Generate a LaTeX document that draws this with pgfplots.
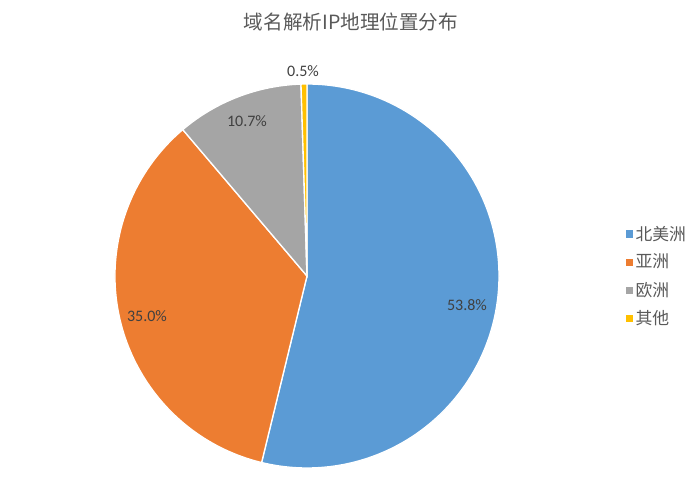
\documentclass[border=0pt]{standalone}
\usepackage{pgfplots}
\pgfplotsset{compat=1.18}
\usepackage{pgfplotstable}
\usepackage{fontspec}
\setmainfont{Carlito}
\newfontfamily\cjk{Noto Sans CJK SC}

\definecolor{pblue}{HTML}{5B9BD5}
\definecolor{porange}{HTML}{ED7D31}
\definecolor{pgray}{HTML}{A5A5A5}
\definecolor{pgold}{HTML}{FFC000}
\definecolor{labtext}{HTML}{404040}
\definecolor{captext}{HTML}{595959}

% share of each region, in %
\pgfplotstableread{
value
53.8
35.0
10.7
0.5
}\piedata

\def\pct#1{\pgfmathprintnumber[fixed,fixed zerofill,precision=1,assume math mode=true]{#1}\%}

\begin{document}
\begin{tikzpicture}
\pgfplotstablegetelem{0}{value}\of\piedata \let\vA\pgfplotsretval
\pgfplotstablegetelem{1}{value}\of\piedata \let\vB\pgfplotsretval
\pgfplotstablegetelem{2}{value}\of\piedata \let\vC\pgfplotsretval
\pgfplotstablegetelem{3}{value}\of\piedata \let\vD\pgfplotsretval
% slices run clockwise from 12 o'clock
\pgfmathsetmacro\aA{90-3.6*\vA}
\pgfmathsetmacro\aB{\aA-3.6*\vB}
\pgfmathsetmacro\aC{\aB-3.6*\vC}
\pgfmathsetmacro\aD{\aC-3.6*\vD}
\begin{axis}[
    hide axis,
    scale only axis,
    width=525pt, height=375.75pt,
    xmin=0, xmax=700, ymin=0, ymax=501,
    clip=false,
    legend style={
        at={(axis cs:622,225)}, anchor=west,
        draw=none, fill=none,
        font=\cjk\fontsize{12.6}{15}\selectfont,
        text=captext,
        row sep=5pt,
    },
    legend cell align=left,
    legend image code/.code={
        \fill[#1] (0pt,-2.2pt) rectangle (4.6pt,2.4pt);
    },
]
\coordinate (bl) at (axis cs:0,0);
\coordinate (tr) at (axis cs:700,501);

\addlegendimage{pblue}\addlegendentry{北美洲}
\addlegendimage{porange}\addlegendentry{亚洲}
\addlegendimage{pgray}\addlegendentry{欧洲}
\addlegendimage{pgold}\addlegendentry{其他}

\fill[pblue, draw=white, line width=1pt]
    (axis cs:307,225) -- ++(90:144pt) arc[start angle=90, end angle=\aA, radius=144pt] -- cycle;
\fill[porange, draw=white, line width=1pt]
    (axis cs:307,225) -- ++(\aA:144pt) arc[start angle=\aA, end angle=\aB, radius=144pt] -- cycle;
\fill[pgray, draw=white, line width=1pt]
    (axis cs:307,225) -- ++(\aB:144pt) arc[start angle=\aB, end angle=\aC, radius=144pt] -- cycle;
\fill[pgold, draw=white, line width=1pt]
    (axis cs:307,225) -- ++(\aC:144pt) arc[start angle=\aC, end angle=\aD, radius=144pt] -- cycle;

\node[text=labtext, font=\fontsize{12}{14}\selectfont] at (axis cs:467,196) {\pct{\vA}};
\node[text=labtext, font=\fontsize{12}{14}\selectfont] at (axis cs:147,185) {\pct{\vB}};
\node[text=labtext, font=\fontsize{12}{14}\selectfont] at (axis cs:247,380) {\pct{\vC}};
\node[text=labtext, font=\fontsize{12}{14}\selectfont] at (axis cs:303,430) {\pct{\vD}};

\node[text=captext, font=\cjk\fontsize{14.7}{18}\selectfont] at (axis cs:351,479) {域名解析IP地理位置分布};
\end{axis}
\pgfresetboundingbox
\path[use as bounding box] (bl) rectangle (tr);
\end{tikzpicture}
\end{document}
